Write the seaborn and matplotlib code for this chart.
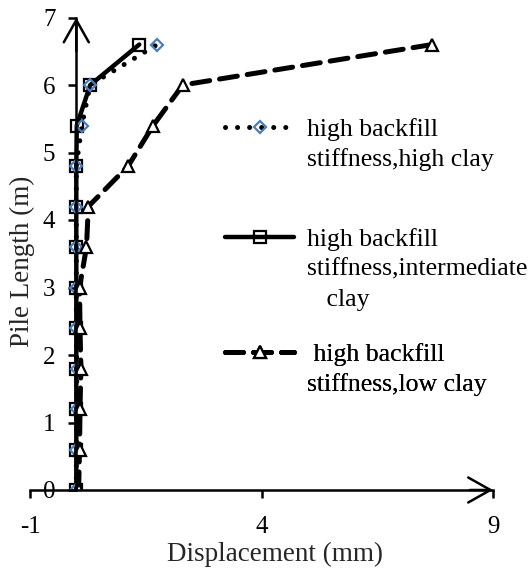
import matplotlib
matplotlib.use("Agg")
import matplotlib.pyplot as plt
import seaborn as sns
from matplotlib.lines import Line2D

# Pile length positions (m) and displacements (mm) for each case
pile_length = [0, 0.6, 1.2, 1.8, 2.4, 3.0, 3.6, 4.2, 4.8, 5.4, 6.0, 6.6]
disp_high_clay = [0, 0, 0.01, 0.01, 0, 0, 0, 0, 0, 0.12, 0.30, 1.75]
disp_interm_clay = [0, 0, 0, 0, 0, 0, 0, 0, 0, 0.01, 0.30, 1.36]
disp_low_clay = [0.05, 0.07, 0.08, 0.1, 0.08, 0.07, 0.22, 0.26, 1.12, 1.66, 2.30, 7.69]

x_ticks = [-1, 4, 9]
y_ticks = [0, 1, 2, 3, 4, 5, 6, 7]

sns.set_theme(style="ticks")
plt.rcParams['font.family'] = ['Liberation Serif', 'DejaVu Serif']
plt.rcParams['text.color'] = 'black'
plt.rcParams['axes.unicode_minus'] = False

fig = plt.figure(figsize=(5.32, 5.72), dpi=100)
ax = fig.add_axes([30 / 532, 1 - 490 / 572, 463 / 532, 472.5 / 572])

blue = '#4a7ebb'
dot_style = (0, (0.01, 2.4))
dash_style = (0, (3.6, 2.0))

# solid, square markers
sns.lineplot(x=disp_interm_clay, y=pile_length, sort=False, estimator=None, ax=ax,
             color='black', linewidth=3.2, marker='s', markersize=8,
             markerfacecolor='none', markeredgecolor='black', markeredgewidth=1.6)
# dotted, blue diamonds
sns.lineplot(x=disp_high_clay, y=pile_length, sort=False, estimator=None, ax=ax,
             color='black', linewidth=3.6, linestyle=dot_style, marker='D', markersize=6.5,
             markerfacecolor='none', markeredgecolor=blue, markeredgewidth=1.6)
# dashed, triangles
sns.lineplot(x=disp_low_clay, y=pile_length, sort=False, estimator=None, ax=ax,
             color='black', linewidth=3.6, linestyle=dash_style, marker='^', markersize=8,
             markerfacecolor='white', markeredgecolor='black', markeredgewidth=1.6)
for ln in ax.get_lines():
    ln.set_dash_capstyle('round')
    ln.set_solid_capstyle('round')

ax.set_xlim(-1, 9)
ax.set_ylim(0, 7)
ax.set_xticks(x_ticks)
ax.set_yticks(y_ticks)
ax.spines['top'].set_visible(False)
ax.spines['right'].set_visible(False)
ax.spines['left'].set_position(('data', 0))
for s in ['left', 'bottom']:
    ax.spines[s].set_linewidth(1.8)
    ax.spines[s].set_color('black')
ax.tick_params(axis='both', direction='out', length=6, width=1.8, colors='black', labelsize=18)
ax.tick_params(axis='x', pad=12.5)
ax.tick_params(axis='y', pad=9)

# arrow heads on the axes
arrow = dict(arrowstyle='->,head_length=0.8,head_width=0.45', lw=1.8, color='black',
             mutation_scale=20, shrinkA=0, shrinkB=0)
ax.annotate('', xy=(0, 7), xytext=(0, 6.5), arrowprops=arrow, annotation_clip=False)
ax.annotate('', xy=(9, 0), xytext=(8.5, 0), arrowprops=arrow, annotation_clip=False)

ax.set_xlabel('Displacement (mm)', fontsize=19.5)
ax.set_ylabel('Pile Length (m)', fontsize=19.5)
ax.xaxis.set_label_coords(0.530, -0.110)
ax.yaxis.set_label_coords(0.011, 0.483)

# legend: one small legend per case, handle on the first text line
h_high = Line2D([], [], color='black', linewidth=3.6, linestyle=dot_style, marker='D',
                markersize=6.5, markerfacecolor='none', markeredgecolor=blue,
                markeredgewidth=1.6, dash_capstyle='round')
h_interm = Line2D([], [], color='black', linewidth=3.2, marker='s', markersize=8,
                  markerfacecolor='none', markeredgecolor='black', markeredgewidth=1.6,
                  solid_capstyle='round')
h_low = Line2D([], [], color='black', linewidth=3.6, linestyle=dash_style, marker='^',
               markersize=8, markerfacecolor='white', markeredgecolor='black',
               markeredgewidth=1.6, dash_capstyle='round')
blank = Line2D([], [], color='none')

entries = [
    ([h_high, blank], ['high backfill', 'stiffness,high clay'], 118),
    ([h_interm, blank, blank], ['high backfill', 'stiffness,intermediate', '   clay'], 228),
    ([h_low, blank], [' high backfill', 'stiffness,low clay'], 343),
]
for hs, labs, top in entries:
    leg = ax.legend(hs, labs, loc='upper left', bbox_to_anchor=(225 / 532, 1 - top / 572),
                    bbox_transform=fig.transFigure, frameon=False, fontsize=18.5,
                    handlelength=2.7, handletextpad=0.5, labelspacing=0.27,
                    borderpad=0, borderaxespad=0, numpoints=1)
    ax.add_artist(leg)

fig.savefig('out.png', dpi=100)
